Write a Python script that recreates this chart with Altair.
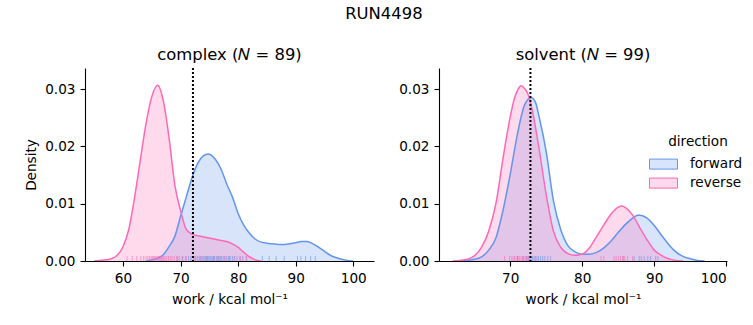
import altair as alt
import pandas as pd

FONT = "DejaVu Sans"

# ---------------- complex: KDE curves ----------------
cplx_fwd_x = [64, 65, 66, 67, 68, 69, 70, 71, 72, 73, 74, 74.8, 76, 77, 78, 79, 80, 81, 82, 83,
              84, 85, 86, 87, 88, 89, 90, 91, 92, 93, 94, 95, 96, 97, 98, 99, 100]
cplx_fwd_y = [0.0000, 0.0002, 0.0005, 0.0011, 0.0025, 0.0043, 0.0078, 0.0112, 0.0146, 0.0171,
              0.0184, 0.0187, 0.0178, 0.0161, 0.0135, 0.0112, 0.0083, 0.0062, 0.0048, 0.0038,
              0.0033, 0.0031, 0.0030, 0.0029, 0.0029, 0.0030, 0.0032, 0.0034, 0.0034, 0.0030,
              0.0024, 0.0017, 0.0010, 0.0006, 0.0003, 0.0001, 0.0000]

cplx_rev_x = [55, 56, 57, 58, 59, 60, 61, 62, 63, 64, 65, 66, 67, 68, 69, 70, 71, 72, 73, 74,
              75, 76, 77, 78, 79, 80, 81, 82, 83, 84]
cplx_rev_y = [0.0000, 0.0001, 0.0002, 0.0004, 0.0010, 0.0025, 0.0055, 0.0110, 0.0176, 0.0240,
              0.0287, 0.0307, 0.0280, 0.0215, 0.0133, 0.0088, 0.0055, 0.0047, 0.0044, 0.0042,
              0.0040, 0.0038, 0.0036, 0.0034, 0.0030, 0.0024, 0.0015, 0.0007, 0.0002, 0.0000]

# ---------------- solvent: KDE curves ----------------
solv_fwd_x = [63, 64, 65, 66, 67, 68, 69, 70, 71, 72, 72.9, 73.5, 74, 75, 76, 77, 78, 79, 80, 81,
              82, 83, 84, 85, 86, 87, 87.7, 88, 89, 90, 91, 92, 93, 94, 95, 96, 97]
solv_fwd_y = [0.0000, 0.0001, 0.0003, 0.0007, 0.0019, 0.0040, 0.0089, 0.0152, 0.0222, 0.0273,
              0.0285, 0.0277, 0.0252, 0.0190, 0.0105, 0.0055, 0.0027, 0.0016, 0.0012, 0.0012,
              0.0015, 0.0023, 0.0035, 0.0050, 0.0064, 0.0075, 0.0080, 0.0080, 0.0075, 0.0062,
              0.0045, 0.0029, 0.0016, 0.0008, 0.0004, 0.0001, 0.0000]

solv_rev_x = [62, 63, 64, 65, 66, 67, 68, 69, 70, 70.6, 71, 71.5, 72, 72.5, 73, 74, 75, 76, 77, 78,
              79, 80, 81, 82, 83, 84, 85, 85.5, 86, 87, 88, 89, 90, 91, 92, 93, 94]
solv_rev_y = [0.0000, 0.0001, 0.0003, 0.0009, 0.0024, 0.0052, 0.0100, 0.0180, 0.0252, 0.0285,
              0.0298, 0.0306, 0.0301, 0.0290, 0.0266, 0.0196, 0.0115, 0.0052, 0.0024, 0.0013,
              0.0010, 0.0012, 0.0023, 0.0043, 0.0063, 0.0082, 0.0094, 0.0096, 0.0093, 0.0080,
              0.0058, 0.0037, 0.0019, 0.0010, 0.0004, 0.0001, 0.0000]

# ---------------- rug samples (approximate work values) ----------------
cplx_fwd_rug = [69.5, 70.3, 70.9, 71.4, 71.8, 72.3, 72.6, 72.9, 73.2, 73.4, 73.7, 73.9, 74.1,
                74.3, 74.5, 74.7, 74.9, 75.1, 75.3, 75.5, 75.7, 75.9, 76.2, 76.4, 76.6, 76.9,
                77.1, 77.4, 77.7, 78.0, 78.3, 78.6, 79.0, 79.4, 79.8, 80.3, 80.8, 81.4, 84.2,
                85.4, 86.6, 88.0, 90.3, 90.9, 91.7, 92.6, 93.4]
cplx_rev_rug = [60.7, 61.6, 62.4, 63.1, 63.6, 64.0, 64.3, 64.6, 64.9, 65.1, 65.3, 65.5, 65.7,
                65.9, 66.1, 66.3, 66.5, 66.7, 66.9, 67.1, 67.3, 67.6, 67.9, 68.2, 68.5, 68.9,
                69.3, 69.8, 70.4, 71.0, 72.5, 73.5, 74.6, 75.8, 76.7, 77.6, 78.5, 79.3, 80.4,
                81.5]
solv_fwd_rug = [71.0, 71.8, 72.3, 72.5, 72.7, 72.9, 73.1, 73.3, 73.5, 73.7, 73.9, 74.2, 74.5,
                74.8, 75.2, 75.6, 85.7, 87.2, 87.9, 88.2, 88.6, 89.1, 89.5, 90.2, 90.5]
solv_rev_rug = [69.2, 69.9, 70.2, 70.4, 70.6, 70.8, 71.0, 71.1, 71.3, 71.5, 71.7, 71.9, 72.1,
                72.3, 72.5, 82.6, 83.0, 84.4, 84.7, 85.0, 85.3, 85.6, 85.9, 86.3, 87.0]

# reference (dotted) lines
cplx_ref = [72.15]
solv_ref = [72.8]

directions = ["forward", "reverse"]
fill_range = ["rgba(100,149,237,0.25)", "rgba(255,105,180,0.25)"]
stroke_range = ["#6495ED", "#FF69B4"]


def curve_df(fx, fy, rx, ry):
    a = pd.DataFrame({"work": fx, "density": fy, "direction": "forward"})
    b = pd.DataFrame({"work": rx, "density": ry, "direction": "reverse"})
    return pd.concat([a, b], ignore_index=True)


def rug_df(f, r):
    a = pd.DataFrame({"work": f, "direction": "forward"})
    b = pd.DataFrame({"work": r, "direction": "reverse"})
    return pd.concat([a, b], ignore_index=True)


H = 193

legend = alt.Legend(
    title="direction", orient="none", legendX=568, legendY=67,
    symbolType="M-1.4,-0.5H1.4V0.5H-1.4Z", symbolSize=400, symbolStrokeWidth=1,
    labelFontSize=13.6, titleFontSize=13.6, titleFontWeight="normal",
    titleAnchor="middle", labelOffset=16, rowPadding=1, padding=0,
    titleColor="black", labelColor="black", titlePadding=5,
    labelFont=FONT, titleFont=FONT,
)


def panel(curves, rugs, ref, domain, ticks, title, width, ytitle):
    xs = alt.Scale(domain=domain, nice=False, zero=False)
    ys = alt.Scale(domain=[0, 0.0337], nice=False, zero=True)
    xax = alt.Axis(values=ticks, format="d", title="work / kcal mol⁻¹", titlePadding=8)
    if ytitle:
        yax = alt.Axis(values=[0, 0.01, 0.02, 0.03], format=".2f", title="Density")
    else:
        yax = alt.Axis(values=[0, 0.01, 0.02, 0.03], format=".2f", title=None)

    fill = alt.Fill("direction:N", scale=alt.Scale(domain=directions, range=fill_range), legend=legend)
    stroke = alt.Stroke("direction:N", scale=alt.Scale(domain=directions, range=stroke_range), legend=legend)

    base = alt.Chart(curves)
    area = base.mark_area(interpolate="monotone", clip=True).encode(
        x=alt.X("work:Q", scale=xs, axis=xax),
        y=alt.Y("density:Q", scale=ys, axis=yax, stack=None),
        fill=fill,
        detail="direction:N",
    )
    line = base.mark_line(interpolate="monotone", strokeWidth=1.5, clip=True).encode(
        x="work:Q", y=alt.Y("density:Q", stack=None), stroke=stroke, detail="direction:N",
    )
    rug = alt.Chart(rugs).mark_rule(strokeWidth=1, strokeOpacity=0.6).encode(
        x="work:Q", y=alt.value(H - 5), y2=alt.value(H), stroke=stroke,
    )
    vline = alt.Chart(pd.DataFrame({"work": ref})).mark_rule(
        color="black", strokeDash=[2, 2], strokeWidth=2
    ).encode(x="work:Q")
    return alt.layer(area, line, rug, vline).properties(
        width=width, height=H,
        title=alt.TitleParams(title, fontSize=16.4, font=FONT, fontWeight="normal",
                              offset=4, color="black"),
    )


left = panel(curve_df(cplx_fwd_x, cplx_fwd_y, cplx_rev_x, cplx_rev_y),
             rug_df(cplx_fwd_rug, cplx_rev_rug), cplx_ref, [53.4, 103.6],
             [60, 70, 80, 90, 100], "complex (𝑁 = 89)", 289, True)
right = panel(curve_df(solv_fwd_x, solv_fwd_y, solv_rev_x, solv_rev_y),
              rug_df(solv_fwd_rug, solv_rev_rug), solv_ref, [60.1, 100.1],
              [70, 80, 90, 100], "solvent (𝑁 = 99)", 288, False)

chart = alt.hconcat(left, right, spacing=24).properties(
    title=alt.TitleParams("RUN4498", fontSize=16.4, font=FONT, fontWeight="normal",
                          offset=24, color="black", anchor="middle"),
    padding={"left": 24, "top": 6, "right": 5, "bottom": 5},
).configure(font=FONT).configure_view(stroke=None).configure_axis(
    domainColor="black", domainWidth=1.1, tickColor="black", tickWidth=1.1, tickSize=5,
    labelPadding=5, labelFontSize=13.6, titleFontSize=13.6, labelFont=FONT, titleFont=FONT,
    labelColor="black", titleColor="black", titleFontWeight="normal", grid=False,
    titlePadding=5,
).configure_axisY(titlePadding=6)

chart.save("out.html", embed_options={"renderer": "svg", "actions": False})
